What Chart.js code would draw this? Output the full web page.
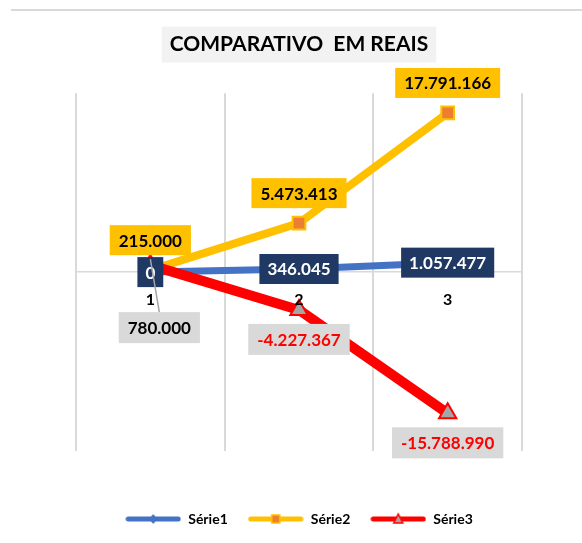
<!DOCTYPE html>
<html><head><meta charset="utf-8">
<script src="https://cdn.jsdelivr.net/npm/chart.js@4/dist/chart.umd.min.js"></script>
<style>
html,body{margin:0;padding:0;background:#fff;}
#wrap{position:relative;width:582px;height:543px;overflow:hidden;}
#topline{position:absolute;left:11px;top:9px;width:571px;height:2px;background:#D9D9D9;}
canvas{position:absolute;left:0;top:0;}
</style></head><body>
<div id="wrap"><canvas id="c" width="582" height="543"></canvas><div id="topline"></div></div>
<script>
const categories = ['1', '2', '3'];
const serie1 = [0, 346045, 1057477];
const serie2 = [215000, 5473413, 17791166];
const serie3 = [780000, -4227367, -15788990];
const seriesNames = ['Série1', 'Série2', 'Série3'];
const yMin = -20000000, yMax = 20000000;
const titleText = 'COMPARATIVO  EM REAIS';

const FONT = 'Lato';

function fmt(v) {
  const s = Math.abs(Math.round(v)).toString().replace(/\B(?=(\d{3})+(?!\d))/g, '.');
  return (v < 0 ? '-' : '') + s;
}

function makeIcon(color, marker) {
  const c = document.createElement('canvas');
  c.width = 56; c.height = 14;
  const g = c.getContext('2d');
  g.strokeStyle = color; g.lineWidth = 5; g.lineCap = 'round';
  g.beginPath(); g.moveTo(3, 7); g.lineTo(53, 7); g.stroke();
  if (marker === 'diamond') {
    g.fillStyle = color;
    g.beginPath(); g.moveTo(28, 2); g.lineTo(32, 7); g.lineTo(28, 12); g.lineTo(24, 7); g.closePath(); g.fill();
  } else if (marker === 'square') {
    g.fillStyle = '#ED7D31'; g.strokeStyle = '#FFC000'; g.lineWidth = 1.5;
    g.fillRect(24, 3, 8, 8); g.strokeRect(24, 3, 8, 8);
  } else if (marker === 'triangle') {
    g.fillStyle = '#A5A5A5'; g.strokeStyle = '#FF0000'; g.lineWidth = 1.5;
    g.beginPath(); g.moveTo(28, 2); g.lineTo(32.5, 11); g.lineTo(23.5, 11); g.closePath(); g.fill(); g.stroke();
  }
  return c;
}
const legendIcons = [makeIcon('#4472C4', 'diamond'), makeIcon('#FFC000', 'square'), makeIcon('#FF0000', 'triangle')];

const titleBoxPlugin = {
  id: 'titleBox',
  beforeDraw(chart) {
    const tb = chart.titleBlock;
    if (!tb) return;
    const ctx = chart.ctx;
    ctx.save();
    ctx.font = 'bold 21px ' + FONT;
    const w = ctx.measureText(titleText).width;
    const cx = (tb.left + tb.right) / 2;
    const cy = (tb.top + tb.bottom) / 2 + (tb.options.padding.top - tb.options.padding.bottom) / 2;
    ctx.fillStyle = '#F2F2F2';
    ctx.fillRect(cx - w / 2 - 8, cy - 18, w + 16, 36);
    ctx.restore();
  }
};

const labelPlugin = {
  id: 'valueLabels',
  afterDatasetsDraw(chart) {
    const ctx = chart.ctx;
    ctx.save();
    ctx.font = 'bold 17px ' + FONT;
    ctx.textBaseline = 'middle';
    ctx.textAlign = 'center';
    chart.data.datasets.forEach((ds, di) => {
      const meta = chart.getDatasetMeta(di);
      const st = ds.labelStyle;
      meta.data.forEach((pt, i) => {
        const v = ds.data[i];
        const txt = fmt(v);
        const w = ctx.measureText(txt).width + 2 * st.padX;
        const h = st.h;
        let cx = pt.x, cy;
        if (st.pos === 'center') cy = pt.y;
        else if (st.pos === 'above') cy = pt.y - st.gap - h / 2;
        else cy = pt.y + st.gap + h / 2;
        const sh = (st.shift && st.shift[i]) || null;
        if (sh) {
          cx += sh[0]; cy += sh[1];
        }
        ctx.fillStyle = st.bg;
        ctx.fillRect(cx - w / 2, cy - h / 2, w, h);
        ctx.fillStyle = st.color(v);
        ctx.fillText(txt, cx, cy + 1);
        if (sh) {
          ctx.strokeStyle = '#A5A5A5';
          ctx.lineWidth = 1.5;
          ctx.beginPath();
          ctx.moveTo(cx, cy - h / 2);
          ctx.lineTo(pt.x, pt.y - 6);
          ctx.stroke();
        }
      });
    });
    ctx.restore();
  }
};

new Chart(document.getElementById('c'), {
  type: 'line',
  data: {
    labels: categories,
    datasets: [
      {
        label: seriesNames[0], data: serie1, order: 2,
        borderColor: '#4472C4', backgroundColor: '#4472C4', borderWidth: 7,
        pointStyle: 'rectRot', pointRadius: 5, pointBackgroundColor: '#4472C4', pointBorderColor: '#4472C4',
        labelStyle: { pos: 'center', gap: 0, padX: 8, h: 30, bg: '#1F3864', color: () => '#FFFFFF' }
      },
      {
        label: seriesNames[1], data: serie2, order: 1,
        borderColor: '#FFC000', backgroundColor: '#FFC000', borderWidth: 8,
        pointStyle: 'rect', pointRadius: 9, pointBorderWidth: 2, pointBackgroundColor: '#ED7D31', pointBorderColor: '#FFC000',
        labelStyle: { pos: 'above', gap: 15, padX: 9, h: 30, bg: '#FFC000', color: () => '#000000' }
      },
      {
        label: seriesNames[2], data: serie3, order: 0,
        borderColor: '#FF0000', backgroundColor: '#FF0000', borderWidth: 10,
        pointStyle: 'triangle', pointRadius: 10, pointBorderWidth: 2, pointBackgroundColor: '#A5A5A5', pointBorderColor: '#FF0000',
        labelStyle: { pos: 'below', gap: 14, padX: 9, h: 31, bg: '#D9D9D9', color: (v) => v < 0 ? '#FF0000' : '#000000', shift: { 0: [9, 33] } }
      }
    ]
  },
  options: {
    responsive: false,
    animation: false,
    events: [],
    layout: { padding: { left: 76, right: 60, top: 0, bottom: 7 } },
    elements: { line: { tension: 0, borderCapStyle: 'butt', borderJoinStyle: 'round' } },
    scales: {
      x: {
        type: 'category',
        position: { y: 0 },
        offset: true,
        grid: { display: true, offset: true, color: '#D9D9D9', lineWidth: 2, drawTicks: false, z: -1 },
        border: { display: true, color: '#D9D9D9', width: 1.5, z: -1 },
        ticks: { font: { family: FONT, weight: 'bold', size: 16 }, color: '#000000', padding: 18, z: 1 }
      },
      y: { min: yMin, max: yMax, display: false }
    },
    plugins: {
      title: {
        display: true, text: titleText, fullSize: false,
        font: { family: FONT, weight: 'bold', size: 21 }, color: '#000000',
        padding: { top: 32, bottom: 36 }
      },
      legend: {
        display: true, position: 'bottom', fullSize: false,
        title: { display: true, text: ' ', font: { size: 10 }, padding: { top: 29, bottom: 0 } },
        labels: {
          font: { family: FONT, weight: 'bold', size: 14 }, color: '#000000',
          usePointStyle: true, pointStyleWidth: 56, boxHeight: 14, padding: 20,
          sort: (a, b) => a.datasetIndex - b.datasetIndex,
          generateLabels(chart) {
            const items = Chart.defaults.plugins.legend.labels.generateLabels(chart);
            items.forEach((it) => { it.pointStyle = legendIcons[it.datasetIndex]; });
            return items;
          }
        }
      },
      tooltip: { enabled: false }
    }
  },
  plugins: [titleBoxPlugin, labelPlugin]
});
</script>
</body></html>
